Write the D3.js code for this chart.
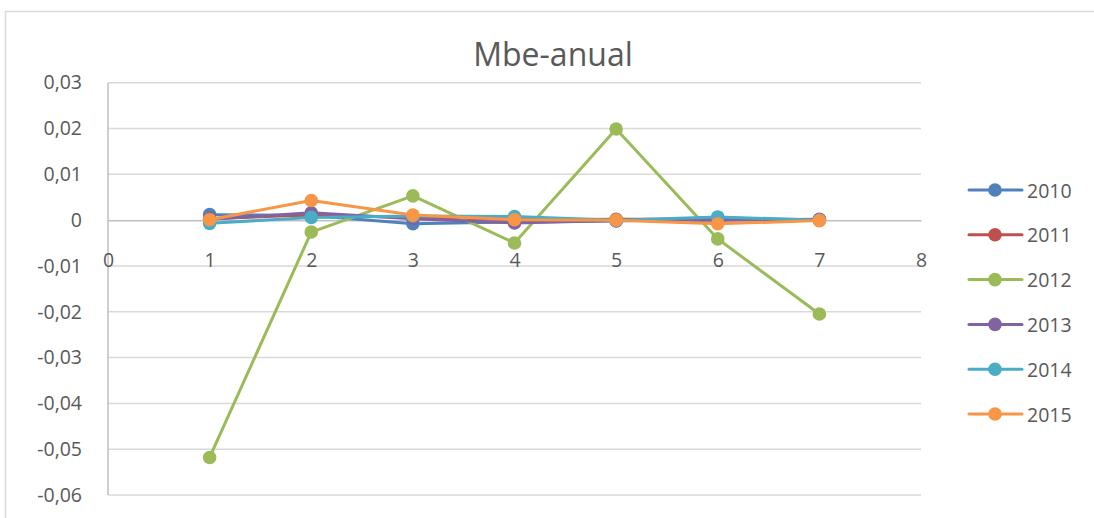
<!DOCTYPE html>
<html>
<head>
<meta charset="utf-8">
<script src="https://cdn.jsdelivr.net/npm/d3@7/dist/d3.min.js"></script>
<style>
  html, body { margin: 0; padding: 0; background: #fff; }
  svg { display: block; font-family: "Open Sans", "Liberation Sans", sans-serif; }
</style>
</head>
<body>
<svg id="chart" width="1094" height="518"></svg>
<script>
// Monthly-block positions on the x axis
const xPoints = [1, 2, 3, 4, 5, 6, 7];
const years = ["2010", "2011", "2012", "2013", "2014", "2015"];
const colors = ["#4F81BD", "#C0504D", "#9BBB59", "#8064A2", "#4BACC6", "#F79646"];

// MBE values per year
const mbe2010 = [0.0012, 0.0010, -0.0008, -0.0004, -0.0002, 0.0004, 0.0001];
const mbe2011 = [0.0003, 0.0012, 0.0006, 0.0001, 0.0002, 0.0002, 0.0001];
const mbe2012 = [-0.0518, -0.0026, 0.0053, -0.0050, 0.0199, -0.0041, -0.0205];
const mbe2013 = [0.0002, 0.0016, 0.0003, -0.0006, -0.0001, 0.0000, 0.0002];
const mbe2014 = [-0.0007, 0.0006, 0.0009, 0.0008, 0.0000, 0.0007, 0.0000];
const mbe2015 = [0.0001, 0.0043, 0.0011, 0.0001, 0.0000, -0.0008, -0.0001];

const yTicks = [-0.06, -0.05, -0.04, -0.03, -0.02, -0.01, 0, 0.01, 0.02, 0.03];
const xTicks = [0, 1, 2, 3, 4, 5, 6, 7, 8];
const title = "Mbe-anual";

const seriesValues = [mbe2010, mbe2011, mbe2012, mbe2013, mbe2014, mbe2015];
const series = years.map((y, i) => ({
  name: y,
  color: colors[i],
  points: xPoints.map((x, j) => ({ x, v: seriesValues[i][j] }))
}));

const svg = d3.select("#chart");
const textColor = "#595959";
const labelSize = "19.5px";

// Outer chart frame
svg.append("rect")
  .attr("x", 5.5).attr("y", 11.5)
  .attr("width", 1200).attr("height", 600)
  .attr("fill", "#fff")
  .attr("stroke", "#d9d9d9").attr("stroke-width", 1.5);

const x = d3.scaleLinear().domain([0, 8]).range([108, 921]);
const y = d3.scaleLinear().domain([-0.06, 0.03]).range([495, 82.7]);

const fmt = v => {
  if (Math.abs(v) < 1e-9) return "0";
  return d3.format(".2f")(v).replace(".", ",").replace("−", "-");
};

// Horizontal gridlines
svg.append("g")
  .selectAll("line")
  .data(yTicks.filter(t => Math.abs(t) > 1e-9))
  .join("line")
  .attr("x1", x(0)).attr("x2", x(8))
  .attr("y1", d => y(d)).attr("y2", d => y(d))
  .attr("stroke", "#d9d9d9").attr("stroke-width", 1.5);

// Y axis (labels only; the axis line is drawn separately)
const yAxis = d3.axisLeft(y).tickValues(yTicks).tickFormat(fmt).tickSize(0).tickPadding(0);
const gy = svg.append("g").attr("transform", "translate(82,0)").call(yAxis);
gy.select(".domain").remove();
gy.selectAll("text")
  .attr("fill", textColor)
  .style("font-size", labelSize)
  .style("font-family", "'Open Sans', sans-serif");

// Vertical axis line
svg.append("line")
  .attr("x1", x(0)).attr("x2", x(0))
  .attr("y1", y(0.03)).attr("y2", y(-0.06))
  .attr("stroke", "#bfbfbf").attr("stroke-width", 1.5);

// Horizontal axis crossing at zero
const xAxis = d3.axisBottom(x).tickValues(xTicks).tickFormat(d3.format("d")).tickSize(0).tickPadding(0);
const gx = svg.append("g").attr("transform", `translate(0,${y(0)})`).call(xAxis);
gx.select(".domain").attr("stroke", "#bfbfbf").attr("stroke-width", 1.5);
gx.selectAll("text")
  .attr("y", 39).attr("dy", null)
  .attr("dominant-baseline", "central")
  .attr("fill", textColor)
  .style("font-size", labelSize)
  .style("font-family", "'Open Sans', sans-serif");

// Series lines and markers
const line = d3.line().x(d => x(d.x)).y(d => y(d.v));
const gs = svg.append("g");
series.forEach(s => {
  const g = gs.append("g");
  g.append("path")
    .datum(s.points)
    .attr("d", line)
    .attr("fill", "none")
    .attr("stroke", s.color)
    .attr("stroke-width", 3)
    .attr("stroke-linejoin", "round")
    .attr("stroke-linecap", "round");
  g.selectAll("circle")
    .data(s.points)
    .join("circle")
    .attr("cx", d => x(d.x)).attr("cy", d => y(d.v))
    .attr("r", 6.8)
    .attr("fill", s.color);
});

// Title
svg.append("text")
  .attr("x", 553).attr("y", 66)
  .attr("text-anchor", "middle")
  .attr("fill", textColor)
  .style("font-size", "32px")
  .text(title);

// Legend
const legend = svg.append("g");
const items = legend.selectAll("g").data(series).join("g")
  .attr("transform", (d, i) => `translate(0,${190 + i * 44.8})`);
items.append("line")
  .attr("x1", 969).attr("x2", 1022).attr("y1", 0).attr("y2", 0)
  .attr("stroke", d => d.color).attr("stroke-width", 3)
  .attr("stroke-linecap", "round");
items.append("circle")
  .attr("cx", 995).attr("cy", 0).attr("r", 6.8)
  .attr("fill", d => d.color);
items.append("text")
  .attr("x", 1027).attr("y", 0)
  .attr("dominant-baseline", "central")
  .attr("fill", textColor)
  .style("font-size", labelSize)
  .text(d => d.name);
</script>
</body>
</html>
